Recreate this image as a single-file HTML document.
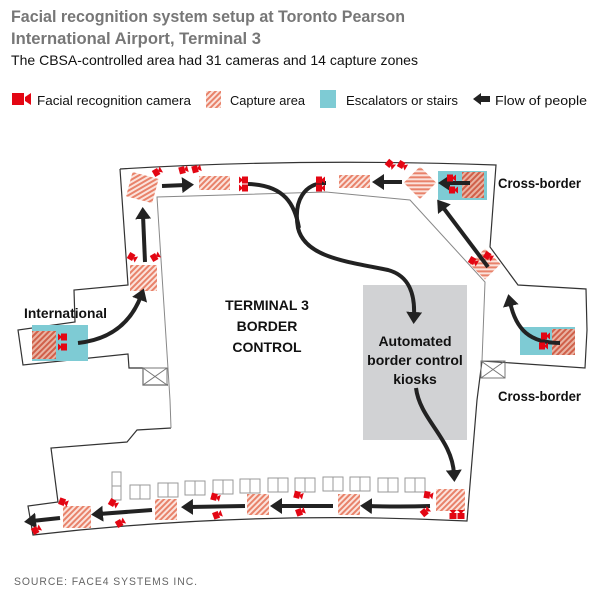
<!DOCTYPE html>
<html><head><meta charset="utf-8"><style>
html,body{margin:0;padding:0;background:#fff;}
svg{display:block;font-family:"Liberation Sans",sans-serif;}
</style></head><body>
<svg width="604" height="596" viewBox="0 0 604 596" xmlns="http://www.w3.org/2000/svg">
<defs>
<pattern id="h" width="4" height="4" patternUnits="userSpaceOnUse" patternTransform="rotate(45)">
<rect width="4" height="4" fill="#fbe3dc"/><rect width="2" height="4" fill="#e8826a"/>
</pattern>
<pattern id="hd" width="4" height="4" patternUnits="userSpaceOnUse" patternTransform="rotate(45)">
<rect width="4" height="4" fill="#e9b3a3"/><rect width="2" height="4" fill="#d0604a"/>
</pattern>
<marker id="a" markerWidth="4" markerHeight="4" refX="1" refY="2" orient="auto" markerUnits="strokeWidth">
<path d="M0,0 L3,2 L0,4 Z" fill="#222"/>
</marker>
<g id="cam"><rect x="-4" y="-3.5" width="6" height="7" fill="#e30613"/><path d="M2,-1 L5,-3.5 L5,3.5 L2,1Z" fill="#e30613"/></g>
</defs>

<!-- header -->
<text x="11" y="22" font-size="17" font-weight="bold" fill="#777" textLength="394" lengthAdjust="spacingAndGlyphs">Facial recognition system setup at Toronto Pearson</text>
<text x="11" y="44" font-size="17" font-weight="bold" fill="#777" textLength="250" lengthAdjust="spacingAndGlyphs">International Airport, Terminal 3</text>
<text x="11" y="65" font-size="14" fill="#111" textLength="407" lengthAdjust="spacingAndGlyphs">The CBSA-controlled area had 31 cameras and 14 capture zones</text>

<!-- legend -->
<rect x="12" y="93" width="12" height="12" fill="#e30613"/><path d="M25,97 L31,93 L31,105 L25,101Z" fill="#e30613"/>
<text x="37" y="105" font-size="13" fill="#111" textLength="154" lengthAdjust="spacingAndGlyphs">Facial recognition camera</text>
<rect x="206" y="91" width="15" height="17" fill="url(#h)"/>
<text x="230" y="105" font-size="13" fill="#111" textLength="75" lengthAdjust="spacingAndGlyphs">Capture area</text>
<rect x="320" y="90" width="16" height="18" fill="#7ecbd4"/>
<text x="346" y="105" font-size="13" fill="#111" textLength="112" lengthAdjust="spacingAndGlyphs">Escalators or stairs</text>
<path d="M473,99 L481,93 L481,96 L490,96 L490,102 L481,102 L481,105Z" fill="#222"/>
<text x="495" y="105" font-size="13" fill="#111" textLength="92" lengthAdjust="spacingAndGlyphs">Flow of people</text>

<!-- floor plan outlines -->
<g fill="none" stroke="#333" stroke-width="1.2">
<path d="M120,169 Q300,158 496,165 L490,247 L518,285 L586,289 L587,330 L585,368 L482,361 L477,400 L467,521 Q250,510 33,535 L28,506 L58,502 L51,448 L127,442 L137,430 L171,428"/>
<path d="M120,169 L128,285 L74,290 L75,322 L18,330 L23,365 L128,354 L129,368 L143,368 L143,385 L168,385"/>
</g>
<path d="M171,428 L170,400 L157,197 L326,192 L410,200 L485,282 L482,361" fill="none" stroke="#888" stroke-width="1"/>
<g stroke="#777" stroke-width="1" fill="none">
<rect x="143" y="368" width="24" height="17"/><path d="M143,368 L167,385 M167,368 L143,385"/>
<rect x="481" y="361" width="24" height="17"/><path d="M481,361 L505,378 M505,361 L481,378"/>
</g>

<rect x="363" y="285" width="104" height="155" fill="#d1d2d4"/>

<rect x="32" y="325" width="56" height="36" fill="#7ecbd4"/>
<rect x="438" y="171" width="49" height="29" fill="#7ecbd4"/>
<rect x="520" y="327" width="55" height="28" fill="#7ecbd4"/>

<g fill="url(#h)">
<rect x="32" y="331" width="24" height="28" fill="url(#hd)"/>
<rect x="462" y="172" width="22" height="26" fill="url(#hd)"/>
<rect x="552" y="329" width="23" height="26" fill="url(#hd)"/>
<rect x="129" y="175" width="27" height="25" transform="rotate(15 142 187)"/>
<rect x="199" y="176" width="31" height="14"/>
<rect x="130" y="265" width="27" height="26"/>
<rect x="339" y="175" width="31" height="13"/>
<rect x="409" y="171" width="23" height="23" transform="rotate(45 420 182)"/>
<rect x="474" y="253" width="22" height="22" transform="rotate(45 485 264)"/>
<rect x="63" y="506" width="28" height="22"/>
<rect x="155" y="499" width="22" height="21"/>
<rect x="247" y="494" width="22" height="21"/>
<rect x="338" y="494" width="22" height="21"/>
<rect x="436" y="489" width="29" height="22"/>
</g>

<g fill="none" stroke="#999" stroke-width="1">
<rect x="112" y="472" width="9" height="28"/><path d="M112,486 H121"/>
<g id="k"><rect x="130" y="485" width="20" height="14"/><path d="M140,485 V499"/></g>
<use href="#k" x="28" y="-2"/><use href="#k" x="55" y="-4"/><use href="#k" x="83" y="-5"/>
<use href="#k" x="110" y="-6"/><use href="#k" x="138" y="-7"/><use href="#k" x="165" y="-7"/>
<use href="#k" x="193" y="-8"/><use href="#k" x="220" y="-8"/><use href="#k" x="248" y="-7"/>
<use href="#k" x="275" y="-7"/>
</g>

<g fill="none" stroke="#222" stroke-width="4" stroke-linecap="butt">
<path d="M78,343 Q125,338 141,296" marker-end="url(#a)"/>
<path d="M145,262 L143,215" marker-end="url(#a)"/>
<path d="M162,186 L186,185" marker-end="url(#a)"/>
<path d="M248,184 C285,185 295,205 299,228"/>
<path d="M326,183 C305,183 293,200 298,228 C305,258 350,262 388,270 C410,276 415,295 414,316" marker-end="url(#a)"/>
<path d="M416,388 C420,420 452,438 454,474" marker-end="url(#a)"/>
<path d="M402,182 L380,182" marker-end="url(#a)"/>
<path d="M470,183 L446,183" marker-end="url(#a)"/>
<path d="M488,267 L442,206" marker-end="url(#a)"/>
<path d="M560,343 C530,343 516,330 510,302" marker-end="url(#a)"/>
<path d="M430,506 Q400,507 368,506" marker-end="url(#a)"/>
<path d="M333,506 L278,506" marker-end="url(#a)"/>
<path d="M245,506 L189,507" marker-end="url(#a)"/>
<path d="M152,510 L99,514" marker-end="url(#a)"/>
<path d="M60,518 L32,521" marker-end="url(#a)"/>
</g>

<g>
<use href="#cam" transform="translate(157,172) rotate(-30)"/>
<use href="#cam" transform="translate(183,170) rotate(-15)"/>
<use href="#cam" transform="translate(196,169) rotate(-15)"/>
<use href="#cam" transform="translate(244,180) rotate(180)"/>
<use href="#cam" transform="translate(244,188) rotate(180)"/>
<use href="#cam" transform="translate(132,257) rotate(30)"/>
<use href="#cam" transform="translate(155,257) rotate(-30)"/>
<use href="#cam" transform="translate(63,337) rotate(180)"/>
<use href="#cam" transform="translate(63,347) rotate(180)"/>
<use href="#cam" transform="translate(390,164) rotate(40)"/>
<use href="#cam" transform="translate(402,165) rotate(30)"/>
<use href="#cam" transform="translate(320,180)"/>
<use href="#cam" transform="translate(320,188)"/>
<use href="#cam" transform="translate(451,178)"/>
<use href="#cam" transform="translate(453,190)"/>
<use href="#cam" transform="translate(473,261) rotate(30)"/>
<use href="#cam" transform="translate(488,256) rotate(30)"/>
<use href="#cam" transform="translate(545,336)"/>
<use href="#cam" transform="translate(543,346)"/>
<use href="#cam" transform="translate(63,502) rotate(20)"/>
<use href="#cam" transform="translate(36,530) rotate(-30)"/>
<use href="#cam" transform="translate(113,503) rotate(30)"/>
<use href="#cam" transform="translate(120,523) rotate(-30)"/>
<use href="#cam" transform="translate(215,497) rotate(15)"/>
<use href="#cam" transform="translate(217,515) rotate(-20)"/>
<use href="#cam" transform="translate(298,495) rotate(15)"/>
<use href="#cam" transform="translate(300,512) rotate(-20)"/>
<use href="#cam" transform="translate(428,495) rotate(10)"/>
<use href="#cam" transform="translate(425,512) rotate(-40)"/>
<use href="#cam" transform="translate(453,515) rotate(-90)"/>
<use href="#cam" transform="translate(461,515) rotate(-90)"/>
</g>

<g font-weight="bold" fill="#111" font-size="14">
<text x="24" y="318" textLength="83" lengthAdjust="spacingAndGlyphs">International</text>
<text x="498" y="188" textLength="83" lengthAdjust="spacingAndGlyphs">Cross-border</text>
<text x="498" y="401" textLength="83" lengthAdjust="spacingAndGlyphs">Cross-border</text>
<g text-anchor="middle">
<text x="267" y="310">TERMINAL 3</text>
<text x="267" y="331">BORDER</text>
<text x="267" y="352">CONTROL</text>
<text x="415" y="346">Automated</text>
<text x="415" y="365">border control</text>
<text x="415" y="384">kiosks</text>
</g>
</g>
<text x="14" y="585" font-size="11" fill="#666" letter-spacing="1" textLength="184" lengthAdjust="spacingAndGlyphs">SOURCE: FACE4 SYSTEMS INC.</text>
</svg>
</body></html>
